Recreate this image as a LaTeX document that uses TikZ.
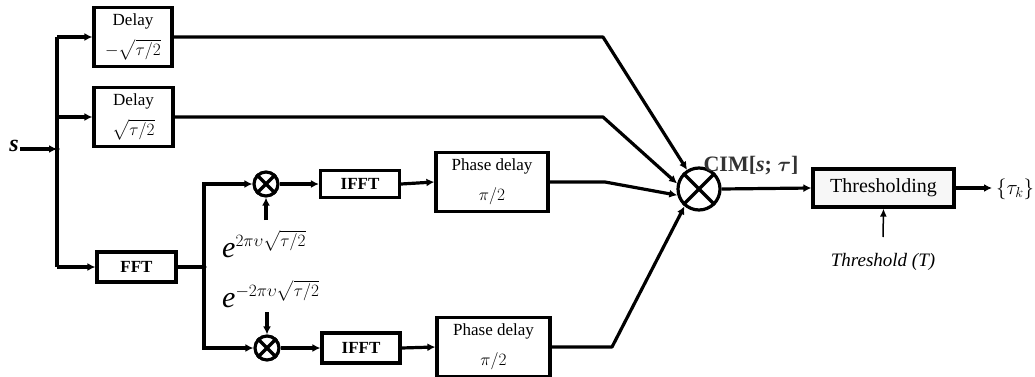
\documentclass[tikz,border=0pt]{standalone}
\usepackage{amsmath,amssymb,bm}
\usepackage{fontspec}
\setmainfont{Liberation Serif}
\usetikzlibrary{arrows.meta,calc}
\begin{document}
\begin{tikzpicture}[x=1pt,y=-1pt,
  ln/.style={line width=3.2pt},
  arr/.style={line width=3.2pt,-{Latex[length=8pt,width=8pt]}},
  thinarr/.style={line width=1.5pt,-{Latex[length=8pt,width=7pt]}},
  blk/.style={draw,line width=3.2pt,rectangle,inner sep=0pt,align=center,font=\fontsize{17}{30}\selectfont},
  mult/.style={draw,circle,line width=3.2pt,inner sep=0pt},
  dot/.style={circle,fill,inner sep=0pt,minimum size=5pt}]
\useasboundingbox (0,0) rectangle (1035,377);
% blocks
\node[blk,minimum width=78pt,minimum height=59pt] (d1) at (133,37) {Delay\\$-\sqrt{\tau/2}$};
\node[blk,minimum width=79pt,minimum height=59pt] (d2) at (133.5,117) {Delay\\$\sqrt{\tau/2}$};
\node[blk,minimum width=79pt,minimum height=30pt,font=\fontsize{17}{17}\selectfont\bfseries] (fft) at (136.5,267) {FFT};
\node[blk,minimum width=79pt,minimum height=27pt,font=\fontsize{17}{17}\selectfont\bfseries] (if1) at (360,184) {IFFT};
\node[blk,minimum width=78pt,minimum height=30pt,font=\fontsize{17}{17}\selectfont\bfseries] (if2) at (361,348) {IFFT};
\node[blk,minimum width=112pt,minimum height=59pt] (pd1) at (492,182) {Phase delay\\$\pi/2$};
\node[blk,minimum width=113pt,minimum height=59pt] (pd2) at (493.5,347) {Phase delay\\$\pi/2$};
\node[blk,minimum width=141pt,minimum height=38pt,fill=gray!6,font=\fontsize{20}{20}\selectfont] (thr) at (883.5,188) {Thresholding};
% multipliers
\node[mult,minimum size=24pt] (m1) at (266,184) {};
\node[mult,minimum size=24pt] (m2) at (267,348) {};
\node[mult,minimum size=42pt] (big) at (699,189) {};
\foreach \m in {m1,m2,big}{
  \draw[line width=3.2pt] (\m.north west) -- (\m.south east);
  \draw[line width=3.2pt] (\m.north east) -- (\m.south west);
}
% labels
\node[font=\fontsize{24}{24}\selectfont\bfseries\itshape,inner sep=1pt] (s) at (14,146) {s};
\node[anchor=base west,inner sep=0pt] (e1) at (222,257) {\fontsize{30}{30}\selectfont\textit{e}\raisebox{11pt}{\fontsize{17}{17}\selectfont$2\pi\upsilon\sqrt{\tau/2}$}};
\node[anchor=base west,inner sep=0pt] (e2) at (222,307) {\fontsize{30}{30}\selectfont\textit{e}\raisebox{11pt}{\fontsize{17}{17}\selectfont$-2\pi\upsilon\sqrt{\tau/2}$}};
\node[font=\fontsize{22}{22}\selectfont\bfseries,text=black!80] (cim) at (751,166) {CIM[\textit{s}; $\bm{\tau}$]};
\node[font=\fontsize{21}{21}\selectfont,anchor=west,inner sep=0pt] (tk) at (996,189) {$\{\tau_k\}$};
\node[font=\fontsize{19}{19}\selectfont\itshape] (tl) at (883,262) {Threshold (\textit{T})};
% coordinates
\coordinate (js) at (57,149);
\coordinate (vt) at (57,37);
\coordinate (vb) at (57,267);
\coordinate (jf) at (204,267);
\coordinate (b1) at (603,37);
\coordinate (b2) at (603,117);
\coordinate (b3) at (605,182);
\coordinate (b4) at (612,347);
\coordinate (e1a) at (266,220);
\coordinate (e2a) at (267,312);
\coordinate (tla) at (883,237);
\coordinate (out) at (992,188);
\coordinate (sst) at (20,149);
% connectors
\draw[arr] (sst) -- (js);
\draw[ln] (vt) -- (vb);
\draw[arr] (vt) -- (d1.west);
\draw[arr] (vt |- d2.west) -- (d2.west);
\draw[arr] (vb) -- (fft.west);
\draw[ln] (fft.east) -- (jf);
\draw[arr] (jf) |- (m1.west);
\draw[arr] (jf) |- (m2.west);
\node[dot] at (jf) {};
\node[dot] at (js) {};
\draw[arr] (e1a) -- (m1.south);
\draw[arr] (e2a) -- (m2.north);
\draw[arr] (m1.east) -- (if1.west);
\draw[arr] (m2.east) -- (if2.west);
\draw[arr] (if1.east) -- (pd1.west);
\draw[arr] (if2.east) -- (pd2.west);
\draw[arr,line join=round] (d1.east) -- (b1) -- (big.122);
\draw[arr,line join=round] (d2.east) -- (b2) -- (big.166);
\draw[arr,line join=round] (pd1.east) -- (b3) -- (big.196);
\draw[arr,line join=round] (pd2.east) -- (b4) -- (big.230);
\draw[arr] (big.east) -- (thr.west);
\draw[arr] (thr.east) -- (out);
\draw[thinarr] (tla) -- (thr.south);
\end{tikzpicture}
\end{document}
